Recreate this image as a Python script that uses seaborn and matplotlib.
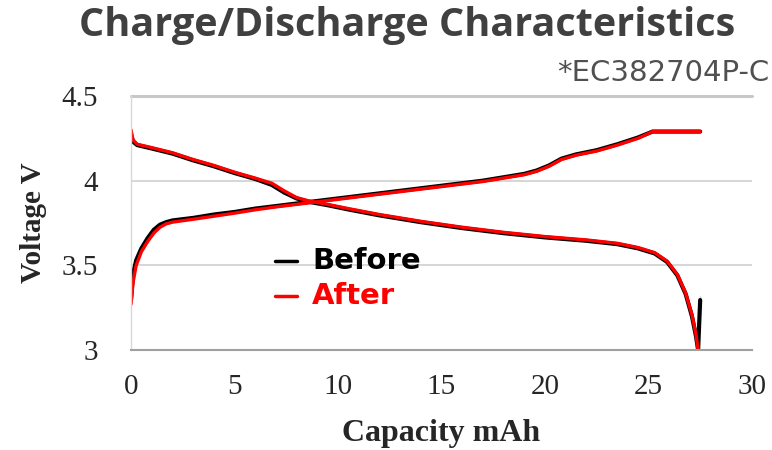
import seaborn as sns
import matplotlib.pyplot as plt
from matplotlib.lines import Line2D

# charge curves (capacity mAh, voltage V)
cap_chg = [0.0, 0.1, 0.25, 0.5, 0.8, 1.1, 1.4, 1.7, 2.0, 3.0, 4.0, 5.0, 6.0, 7.0, 8.0, 9.0, 10.0,
           11.0, 12.0, 13.0, 14.0, 15.0, 16.0, 17.0, 18.0, 19.0, 19.6, 20.2, 20.8, 21.5, 22.5,
           23.5, 24.5, 25.2, 26.0, 27.0, 27.5]
v_chg_before = [3.30, 3.45, 3.53, 3.60, 3.66, 3.71, 3.74, 3.755, 3.765, 3.78, 3.80, 3.815, 3.835,
                3.85, 3.865, 3.88, 3.895, 3.91, 3.925, 3.94, 3.955, 3.97, 3.985, 4.00, 4.02, 4.04,
                4.06, 4.09, 4.13, 4.155, 4.18, 4.215, 4.255, 4.29, 4.29, 4.29, 4.29]
v_chg_after = [3.27, 3.40, 3.50, 3.58, 3.64, 3.69, 3.725, 3.745, 3.755, 3.772, 3.79, 3.808, 3.828,
               3.845, 3.86, 3.875, 3.89, 3.905, 3.92, 3.935, 3.95, 3.965, 3.98, 3.995, 4.015,
               4.035, 4.055, 4.085, 4.125, 4.15, 4.175, 4.21, 4.25, 4.29, 4.29, 4.29, 4.29]

# discharge curves
cap_dis_before = [0.0, 0.1, 0.3, 1.0, 2.0, 3.0, 4.0, 5.0, 6.0, 6.8, 7.4, 8.0, 8.6, 9.5, 10.5,
                  12.0, 14.0, 16.0, 18.0, 20.0, 22.0, 23.5, 24.5, 25.3, 25.9, 26.4, 26.8, 27.1,
                  27.3, 27.4, 27.45, 27.5, 27.5]
v_dis_before = [4.27, 4.23, 4.21, 4.19, 4.16, 4.12, 4.085, 4.045, 4.01, 3.975, 3.93, 3.895,
                3.875, 3.855, 3.83, 3.795, 3.755, 3.72, 3.69, 3.665, 3.645, 3.625, 3.60, 3.57,
                3.52, 3.44, 3.33, 3.20, 3.08, 3.0, 3.15, 3.32, 3.27]
cap_dis_after = [0.0, 0.1, 0.3, 1.0, 2.0, 3.0, 4.0, 5.0, 6.0, 6.8, 7.4, 8.0, 8.6, 9.5, 10.5,
                 12.0, 14.0, 16.0, 18.0, 20.0, 22.0, 23.5, 24.5, 25.3, 25.9, 26.4, 26.8, 27.1,
                 27.3, 27.4]
v_dis_after = [4.30, 4.24, 4.215, 4.195, 4.165, 4.125, 4.09, 4.05, 4.015, 3.985, 3.94, 3.90,
               3.88, 3.86, 3.835, 3.80, 3.76, 3.725, 3.695, 3.67, 3.65, 3.63, 3.605, 3.575,
               3.525, 3.445, 3.335, 3.21, 3.09, 3.0]

x_ticks = [0, 5, 10, 15, 20, 25, 30]
y_ticks = [3, 3.5, 4, 4.5]
y_tick_labels = ['3', '3.5', '4', '4.5']

sns.set_style('white')
fig = plt.figure(figsize=(7.72, 4.5), dpi=100)
ax = fig.add_axes([0.1697, 0.2222, 0.8043, 0.5645])

ax.grid(axis='y', color='#d0d0d0', linewidth=1.2)
ax.set_axisbelow(True)

black = '#000000'
red = '#ff0000'
sns.lineplot(x=cap_chg, y=v_chg_before, sort=False, color=black, linewidth=3.0, ax=ax)
sns.lineplot(x=cap_dis_before, y=v_dis_before, sort=False, color=black, linewidth=3.0, ax=ax)
sns.lineplot(x=cap_chg, y=v_chg_after, sort=False, color=red, linewidth=2.4, ax=ax)
sns.lineplot(x=cap_dis_after, y=v_dis_after, sort=False, color=red, linewidth=2.4, ax=ax)

ax.set_xlim(0, 30)
ax.set_ylim(3, 4.5)
ax.set_xticks(x_ticks)
ax.set_yticks(y_ticks)
ax.set_xticklabels([str(t) for t in x_ticks], family='Liberation Serif', fontsize=21)
ax.set_yticklabels(y_tick_labels, family='Liberation Serif', fontsize=21)
ax.tick_params(axis='x', direction='in', length=6, color='#a0a0a0', width=1.2, pad=17)
ax.tick_params(axis='y', direction='out', length=3, color='#d0d0d0', width=1.2, pad=21)

for s in ['top', 'right']:
    ax.spines[s].set_visible(False)
ax.spines['bottom'].set_color('#a0a0a0')
ax.spines['bottom'].set_linewidth(1.5)
ax.spines['left'].set_color('#d8d8d8')
ax.spines['left'].set_linewidth(1.0)
ax.axhline(4.5, color='#c8c8c8', linewidth=2.2, clip_on=False)

ax.set_xlabel('Capacity mAh', family='Liberation Serif', fontweight='bold', fontsize=23, labelpad=14)
ax.set_ylabel('Voltage V', family='Liberation Serif', fontweight='bold', fontsize=21, labelpad=10)

# legend
for ypos, col, lab in [(0.42, black, 'Before'), (0.342, red, 'After')]:
    fig.add_artist(Line2D([0.356, 0.385], [ypos, ypos], color=col, linewidth=2.5,
                          transform=fig.transFigure))
    fig.text(0.404, ypos, lab, color=col, fontsize=21, fontweight='bold', va='center', ha='left',
             family='DejaVu Sans')

fig.text(0.528, 0.944, 'Charge/Discharge Characteristics', ha='center', va='center',
         fontsize=28.5, fontweight='bold', color='#404040', family='Open Sans')
fig.text(0.997, 0.838, '*EC382704P-C', ha='right', va='center', fontsize=21, color='#505050',
         family='DejaVu Sans')

plt.savefig('out.png', dpi=100)
